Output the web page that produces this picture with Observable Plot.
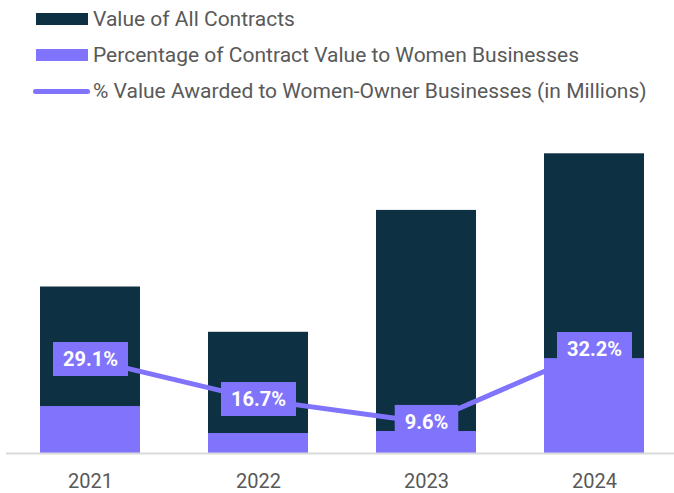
<!DOCTYPE html>
<html>
<head>
<meta charset="utf-8">
<script src="https://cdn.jsdelivr.net/npm/d3@7"></script>
<script src="https://cdn.jsdelivr.net/npm/@observablehq/plot@0.6"></script>
<style>
  html, body { margin: 0; padding: 0; background: #fff; }
  body { width: 674px; height: 493px; overflow: hidden; font-family: Roboto, "Noto Sans", sans-serif; }
  #legend { height: 110px; box-sizing: border-box; padding-top: 1px; color: #595959; font-size: 21px; }
  .row { height: 36px; display: flex; align-items: center; white-space: nowrap; }
  .sw { width: 52px; height: 12px; margin-left: 36px; margin-right: 5px; flex: none; }
  .ln { width: 57px; height: 5px; border-radius: 2.5px; margin-left: 33px; margin-right: 3px; flex: none; }
</style>
</head>
<body>
<div id="legend"></div>
<div id="chart"></div>
<script>
// ---- data ----
const years = ["2021", "2022", "2023", "2024"];
const totalValue = [5.0, 3.64, 7.3, 9.0];        // Value of All Contracts (millions)
const womenValue = [1.41, 0.60, 0.66, 2.85];     // Contract value to women businesses (millions)
const pctWomen = [29.1, 16.7, 9.6, 32.2];        // % value awarded to women-owned businesses
const seriesNames = [
  "Value of All Contracts",
  "Percentage of Contract Value to Women Businesses",
  "% Value Awarded to Women-Owner Businesses (in Millions)"
];
const navy = "#0E3043";
const purple = "#8074FC";
// secondary (percent) axis: 0–100% spans 0–pctAxisTop on the primary axis
const pctAxisTop = 9.69;

const rows = years.map((year, i) => ({
  year, total: totalValue[i], women: womenValue[i], pct: pctWomen[i]
}));

// ---- legend ----
const legend = document.getElementById("legend");
const legendItems = [
  {name: seriesNames[0], cls: "sw", color: navy},
  {name: seriesNames[1], cls: "sw", color: purple},
  {name: seriesNames[2], cls: "ln", color: purple}
];
for (const it of legendItems) {
  const row = document.createElement("div");
  row.className = "row";
  const sw = document.createElement("span");
  sw.className = it.cls;
  sw.style.background = it.color;
  const tx = document.createElement("span");
  tx.textContent = it.name;
  row.append(sw, tx);
  legend.append(row);
}

// ---- chart ----
const chart = Plot.plot({
  width: 674,
  height: 383,
  marginTop: 10,
  marginBottom: 40,
  marginLeft: 6,
  marginRight: 0,
  style: {fontFamily: "Roboto, sans-serif", color: "#595959", background: "#fff"},
  x: {domain: years, paddingInner: 0.405, paddingOuter: 0.19, align: 0.53, label: null, axis: null},
  y: {domain: [0, 10], axis: null},
  marks: [
    Plot.barY(rows, {x: "year", y: "total", fill: navy}),
    Plot.barY(rows, {x: "year", y: "women", fill: purple}),
    Plot.ruleY([0], {stroke: "#d9d9d9", strokeWidth: 2}),
    Plot.line(rows, {x: "year", y: d => d.pct / 100 * pctAxisTop, stroke: purple, strokeWidth: 5}),
    Plot.text(rows, {
      x: "year", y: d => d.pct / 100 * pctAxisTop,
      text: d => d.pct.toFixed(1) + "%",
      fill: "white", fontWeight: "bold", fontSize: 20
    }),
    Plot.axisX({tickSize: 0, tickPadding: 20, fontSize: 20, fill: "#595959", label: null})
  ]
});
document.getElementById("chart").append(chart);

// label boxes behind the percentage texts
for (const g of chart.querySelectorAll('g[aria-label="text"]')) {
  for (const t of Array.from(g.querySelectorAll("text"))) {
    const b = t.getBBox();
    const r = document.createElementNS("http://www.w3.org/2000/svg", "rect");
    const cy = b.y + b.height / 2;
    r.setAttribute("x", b.x - 10);
    r.setAttribute("width", b.width + 20);
    r.setAttribute("y", cy - 17);
    r.setAttribute("height", 34);
    r.setAttribute("fill", purple);
    const tr = t.getAttribute("transform");
    if (tr) r.setAttribute("transform", tr);
    t.parentNode.insertBefore(r, t);
  }
}
</script>
</body>
</html>
